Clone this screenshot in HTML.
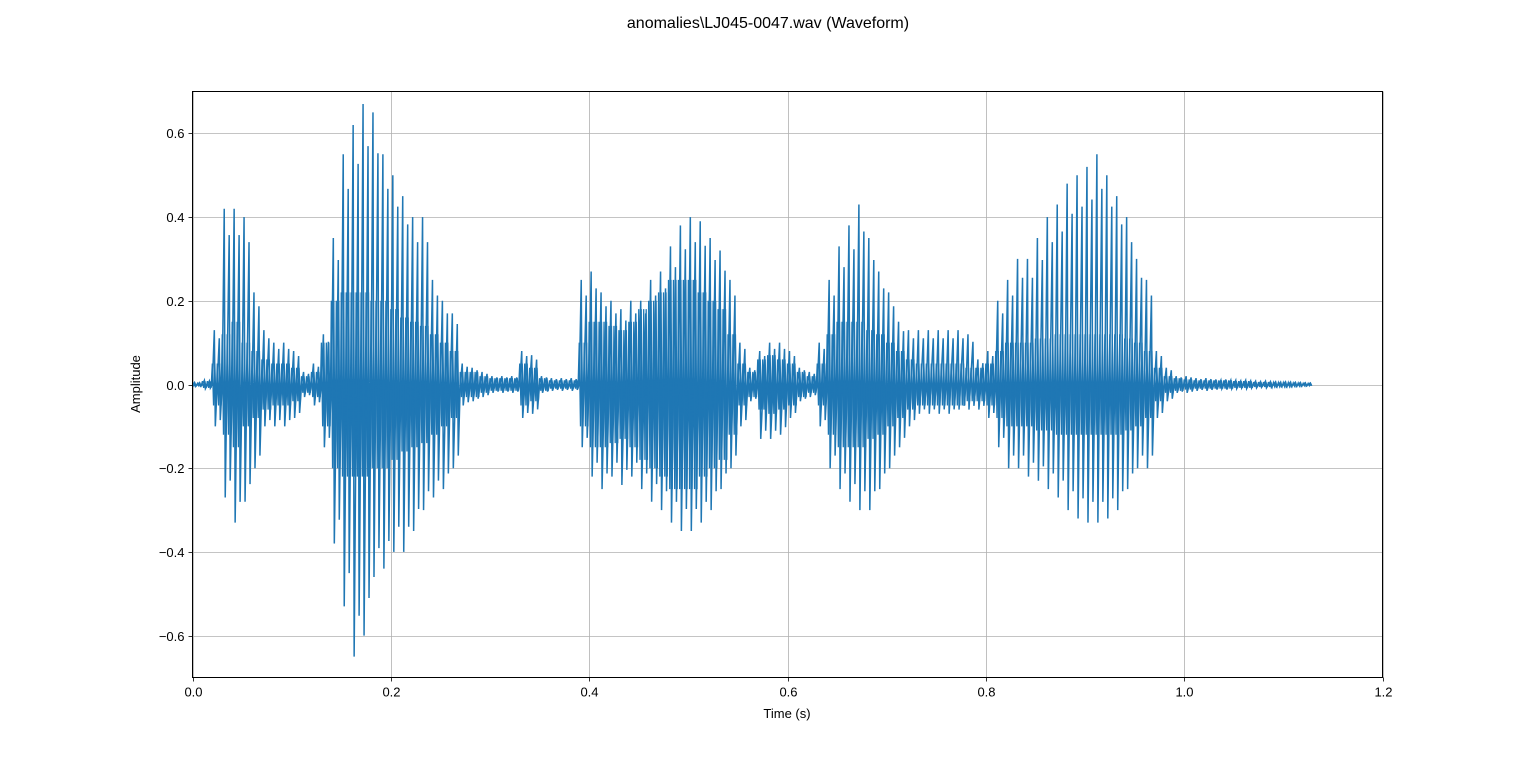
<!DOCTYPE html>
<html><head><meta charset="utf-8">
<style>
html,body{margin:0;padding:0;background:#fff;}
svg{display:block;font-family:"Liberation Sans","DejaVu Sans",sans-serif;}
</style></head>
<body>
<svg id="chart" width="1536" height="761" viewBox="0 0 1536 761" xmlns="http://www.w3.org/2000/svg">
<rect x="0" y="0" width="1536" height="761" fill="#fff"/>
<text x="768" y="28" text-anchor="middle" font-size="16">anomalies\LJ045-0047.wav (Waveform)</text>
<g id="grid"></g>
<g id="series"></g>
<rect x="192.5" y="91.5" width="1190" height="586" fill="none" stroke="#000" stroke-width="1"/>
<g id="axes"></g>
<text x="787" y="718" text-anchor="middle" font-size="13">Time (s)</text>
<text x="140" y="384" text-anchor="middle" font-size="13" transform="rotate(-90 140 384)">Amplitude</text>
</svg>
<script>
const binStep = 0.01;
const peakHi = [0.005,0.01,0.13,0.42,0.42,0.4,0.22,0.13,0.1,0.1,
0.08,0.03,0.05,0.12,0.35,0.55,0.62,0.67,0.65,0.55,
0.5,0.45,0.4,0.4,0.25,0.2,0.17,0.05,0.04,0.03,
0.02,0.02,0.02,0.08,0.07,0.02,0.015,0.015,0.015,0.25,
0.27,0.22,0.2,0.18,0.2,0.2,0.25,0.27,0.33,0.38,
0.4,0.39,0.35,0.32,0.25,0.1,0.04,0.08,0.1,0.1,
0.08,0.04,0.03,0.1,0.25,0.33,0.38,0.43,0.35,0.27,
0.22,0.15,0.13,0.13,0.13,0.13,0.13,0.13,0.12,0.06,
0.08,0.2,0.25,0.3,0.3,0.35,0.4,0.43,0.48,0.5,
0.52,0.55,0.5,0.45,0.4,0.3,0.25,0.08,0.04,0.02,
0.02,0.015,0.015,0.012,0.012,0.01,0.01,0.008,0.008,0.006,
0.006,0.005,0.004];
const peakLo = [-0.005,-0.01,-0.1,-0.27,-0.33,-0.28,-0.2,-0.1,-0.1,-0.1,
-0.08,-0.03,-0.05,-0.15,-0.38,-0.53,-0.65,-0.6,-0.46,-0.44,
-0.4,-0.4,-0.35,-0.3,-0.27,-0.25,-0.2,-0.05,-0.04,-0.03,
-0.02,-0.02,-0.02,-0.08,-0.07,-0.02,-0.015,-0.015,-0.015,-0.15,
-0.22,-0.25,-0.22,-0.24,-0.22,-0.25,-0.28,-0.3,-0.33,-0.35,
-0.35,-0.33,-0.3,-0.25,-0.2,-0.1,-0.04,-0.13,-0.13,-0.12,
-0.08,-0.04,-0.03,-0.1,-0.2,-0.25,-0.28,-0.3,-0.3,-0.25,
-0.2,-0.15,-0.1,-0.07,-0.07,-0.07,-0.07,-0.06,-0.06,-0.06,
-0.08,-0.15,-0.2,-0.2,-0.22,-0.23,-0.25,-0.27,-0.3,-0.32,
-0.33,-0.33,-0.32,-0.3,-0.25,-0.2,-0.2,-0.08,-0.04,-0.02,
-0.02,-0.015,-0.015,-0.012,-0.012,-0.01,-0.01,-0.008,-0.008,-0.006,
-0.006,-0.005,-0.004];
const coreAmp = [0.003,0.008,0.05,0.12,0.15,0.1,0.08,0.06,0.05,0.05,
0.04,0.02,0.03,0.1,0.2,0.22,0.22,0.22,0.2,0.2,
0.18,0.16,0.15,0.14,0.12,0.1,0.08,0.03,0.03,0.02,
0.015,0.015,0.015,0.05,0.04,0.015,0.01,0.01,0.01,0.1,
0.15,0.15,0.14,0.13,0.15,0.18,0.2,0.22,0.25,0.25,
0.25,0.22,0.2,0.18,0.12,0.05,0.03,0.06,0.07,0.06,
0.05,0.03,0.02,0.05,0.12,0.15,0.15,0.15,0.13,0.12,
0.1,0.08,0.06,0.05,0.05,0.05,0.05,0.05,0.04,0.04,
0.05,0.08,0.1,0.1,0.1,0.11,0.11,0.12,0.12,0.12,
0.12,0.12,0.12,0.12,0.11,0.1,0.08,0.04,0.02,0.015,
0.012,0.01,0.01,0.01,0.01,0.008,0.008,0.006,0.006,0.005,
0.005,0.004,0.003];
const xTicks = [0.0,0.2,0.4,0.6,0.8,1.0,1.2];
const xTickLabels = ["0.0","0.2","0.4","0.6","0.8","1.0","1.2"];
const yTicks = [-0.6,-0.4,-0.2,0.0,0.2,0.4,0.6];
const yTickLabels = ["\u22120.6","\u22120.4","\u22120.2","0.0","0.2","0.4","0.6"];

const NS = "http://www.w3.org/2000/svg";
const L = 192.5, R = 1382.5, T = 91.5, B = 677.5;
const xMin = 0, xMax = 1.2, yMin = -0.7, yMax = 0.7;
function sx(t){ return L + (t - xMin) / (xMax - xMin) * (R - L); }
function sy(v){ return B - (v - yMin) / (yMax - yMin) * (B - T); }
function mk(tag, attrs, parent){ const e = document.createElementNS(NS, tag); for (const k in attrs) e.setAttribute(k, attrs[k]); parent.appendChild(e); return e; }

const grid = document.getElementById('grid');
const axes = document.getElementById('axes');
xTicks.forEach((t, i) => {
  const x = Math.round(sx(t)) + 0.5;
  const g = mk('line', {x1:x, x2:x, y1:T, y2:B, stroke:'#b0b0b0', 'stroke-width':0.8}, grid);
  
  
  const tk = mk('line', {x1:x, x2:x, y1:B, y2:B+4, stroke:'#000', 'stroke-width':0.8}, axes);
  
  
  const lb = mk('text', {x:x, y:B+19, 'text-anchor':'middle', 'font-size':13}, axes);
  lb.textContent = xTickLabels[i];
  
  
});
yTicks.forEach((v, i) => {
  const y = Math.round(sy(v)) + 0.5;
  const g = mk('line', {x1:L, x2:R, y1:y, y2:y, stroke:'#b0b0b0', 'stroke-width':0.8}, grid);
  
  
  const tk = mk('line', {x1:L-4, x2:L, y1:y, y2:y, stroke:'#000', 'stroke-width':0.8}, axes);
  
  
  const lb = mk('text', {x:L-8, y:y+4.5, 'text-anchor':'end', 'font-size':13}, axes);
  lb.textContent = yTickLabels[i];
  
  
});

const series = document.getElementById('series');
let corePts = [];
for (let i = 0; i < coreAmp.length; i++) {
  const t0 = i * binStep;
  for (let k = 0; k < 8; k++) {
    const t = t0 + k * binStep / 8;
    const v = (k % 2 === 0) ? coreAmp[i] : -coreAmp[i];
    corePts.push(sx(t).toFixed(2) + ',' + sy(v).toFixed(2));
  }
}
const core = mk('polyline', {points: corePts.join(' '), fill:'none', stroke:'#1f77b4', 'stroke-width':1.3, 'stroke-linejoin':'miter'}, series);


let pk = [];
for (let i = 0; i < peakHi.length; i++) {
  const t0 = i * binStep;
  pk.push(sx(t0).toFixed(2) + ',' + sy(0).toFixed(2));
  pk.push(sx(t0 + binStep * 0.2).toFixed(2) + ',' + sy(peakHi[i]).toFixed(2));
  pk.push(sx(t0 + binStep * 0.3).toFixed(2) + ',' + sy(peakLo[i]).toFixed(2));
  pk.push(sx(t0 + binStep * 0.7).toFixed(2) + ',' + sy(peakHi[i] * 0.85).toFixed(2));
  pk.push(sx(t0 + binStep * 0.8).toFixed(2) + ',' + sy(peakLo[i] * 0.85).toFixed(2));
}
const peaks = mk('polyline', {points: pk.join(' '), fill:'none', stroke:'#1f77b4', 'stroke-width':1.5}, series);


</script>
</body></html>
